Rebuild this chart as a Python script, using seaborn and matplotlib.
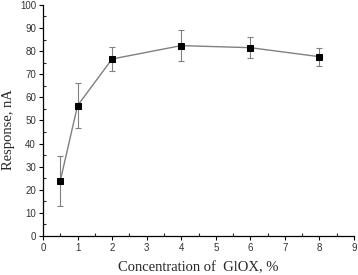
import seaborn as sns
import matplotlib.pyplot as plt
import pandas as pd
from matplotlib.ticker import MultipleLocator

# Data
concentration = [0.5, 1, 2, 4, 6, 8]
response = [23.8, 56.4, 76.6, 82.4, 81.5, 77.6]
error = [11.0, 9.6, 5.2, 6.6, 4.5, 3.9]

df = pd.DataFrame({"conc": concentration, "resp": response, "err": error})

sns.set_style("ticks")
fig = plt.figure(figsize=(3.58, 2.75), dpi=100)
ax = fig.add_axes([0.12, 0.142, 0.869, 0.84])

ax.errorbar(df["conc"], df["resp"], yerr=df["err"], fmt="none",
            ecolor="#808080", elinewidth=0.8, capsize=2.5, capthick=0.8, zorder=2)
sns.lineplot(data=df, x="conc", y="resp", ax=ax, color="#808080", linewidth=1.0,
             marker="s", markersize=5, markerfacecolor="black",
             markeredgecolor="black", zorder=3)

ax.set_xlim(0, 9)
ax.set_ylim(0, 100)
ax.xaxis.set_major_locator(MultipleLocator(1))
ax.xaxis.set_minor_locator(MultipleLocator(0.5))
ax.yaxis.set_major_locator(MultipleLocator(10))
ax.yaxis.set_minor_locator(MultipleLocator(5))
ax.tick_params(which="major", direction="out", length=3, width=0.8,
               labelsize=7, colors="black", pad=2)
ax.tick_params(which="minor", direction="in", length=2, width=0.8)
for lab in ax.get_xticklabels() + ax.get_yticklabels():
    lab.set_family("Liberation Sans")
    lab.set_color("#333333")

sns.despine(ax=ax)
for s in ["left", "bottom"]:
    ax.spines[s].set_linewidth(0.9)
    ax.spines[s].set_color("black")

ax.set_xlabel("Concentration of  GlOX, %", family="Liberation Serif", fontsize=10.5)
ax.set_ylabel("Response, nA", family="Liberation Serif", fontsize=10.5, va="center")
ax.xaxis.set_label_coords(0.5, -0.108)
ax.yaxis.set_label_coords(9 / 358, 1 - 130 / 275, transform=fig.transFigure)

fig.savefig("out.png", dpi=100)
